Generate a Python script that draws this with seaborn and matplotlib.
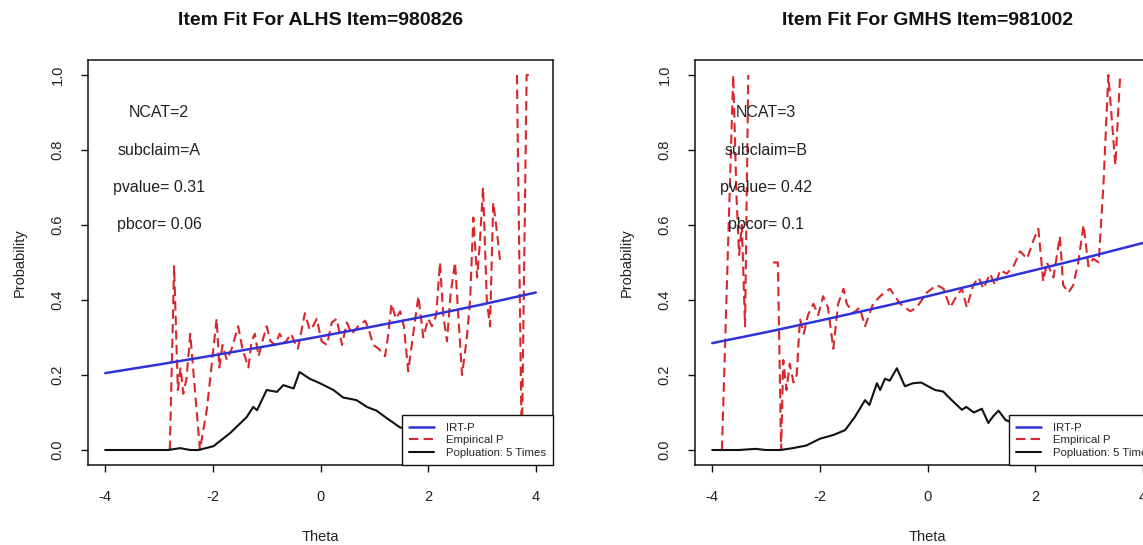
import numpy as np
import pandas as pd
import matplotlib
matplotlib.use("Agg")
import matplotlib.pyplot as plt
from matplotlib.lines import Line2D
import seaborn as sns

# ---------------- data ----------------
titles = ["Item Fit For ALHS Item=980826", "Item Fit For GMHS Item=981002"]
annotations = [["NCAT=2", "subclaim=A", "pvalue= 0.31", "pbcor= 0.06"],
               ["NCAT=3", "subclaim=B", "pvalue= 0.42", "pbcor= 0.1"]]
legend_labels = ["IRT-P", "Empirical P", "Popluation: 5 Times"]
x_ticks = [-4, -2, 0, 2, 4]
y_ticks = [0.0, 0.2, 0.4, 0.6, 0.8, 1.0]

# IRT-P model curves
irt_theta = [-4, -3, -2, -1, 0, 1, 2, 3, 4]
irt_left = [0.205, 0.228, 0.252, 0.277, 0.303, 0.330, 0.358, 0.388, 0.420]
irt_right = [0.285, 0.314, 0.345, 0.377, 0.410, 0.445, 0.480, 0.515, 0.552]

# Empirical P (NaN = no data)
emp_theta_left = [-2.80, -2.72, -2.65, -2.60, -2.55, -2.49, -2.42, -2.38, -2.24, -2.11,
                  -1.93, -1.88, -1.82, -1.74, -1.65, -1.53, -1.45, -1.34, -1.28, -1.22,
                  -1.15, -1.08, -1.00, -0.93, -0.84, -0.76, -0.66, -0.55, -0.42, -0.29,
                  -0.20, -0.14, -0.07, 0.02, 0.12, 0.21, 0.30, 0.40, 0.49, 0.58,
                  0.70, 0.83, 0.90, 0.98, 1.08, 1.20, 1.26, 1.32, 1.40, 1.48,
                  1.55, 1.63, 1.76, 1.82, 1.91, 2.00, 2.07, 2.15, 2.22, 2.28,
                  2.35, 2.42, 2.50, 2.56, 2.63, 2.72, 2.78, 2.84, 2.91, 2.96,
                  3.02, 3.09, 3.15, 3.21, 3.28, 3.34, 3.45, 3.65, 3.74, 3.83, 3.87]
emp_p_left = [0.00, 0.49, 0.16, 0.22, 0.15, 0.19, 0.31, 0.24, 0.00, 0.11,
              0.35, 0.22, 0.28, 0.24, 0.27, 0.33, 0.27, 0.22, 0.29, 0.31,
              0.25, 0.29, 0.33, 0.29, 0.28, 0.31, 0.285, 0.31, 0.27, 0.365,
              0.32, 0.33, 0.35, 0.29, 0.28, 0.34, 0.35, 0.28, 0.34, 0.31,
              0.33, 0.345, 0.32, 0.28, 0.27, 0.25, 0.31, 0.39, 0.35, 0.37,
              0.33, 0.21, 0.35, 0.41, 0.30, 0.35, 0.33, 0.36, 0.50, 0.36,
              0.29, 0.42, 0.50, 0.36, 0.20, 0.30, 0.40, 0.62, 0.46, 0.55,
              0.70, 0.40, 0.33, 0.66, 0.58, 0.50, np.nan, 1.00, 0.00, 1.00, 1.00]

emp_theta_right = [-3.82, -3.61, -3.55, -3.50, -3.45, -3.39, -3.33, -3.10, -2.87, -2.78,
                   -2.72, -2.68, -2.62, -2.56, -2.49, -2.43, -2.37, -2.30, -2.22, -2.12,
                   -2.03, -1.94, -1.85, -1.75, -1.66, -1.56, -1.50, -1.38, -1.26, -1.16,
                   -1.01, -0.88, -0.70, -0.51, -0.32, -0.20, -0.01, 0.17, 0.30, 0.42,
                   0.54, 0.64, 0.73, 0.85, 0.95, 1.04, 1.16, 1.26, 1.35, 1.47,
                   1.60, 1.72, 1.85, 1.97, 2.06, 2.15, 2.22, 2.34, 2.46, 2.52,
                   2.62, 2.71, 2.80, 2.90, 2.99, 3.08, 3.18, 3.27, 3.36, 3.42,
                   3.49, 3.58]
emp_p_right = [0.00, 1.00, 0.68, 0.52, 0.60, 0.33, 1.00, np.nan, 0.50, 0.50,
               0.00, 0.24, 0.16, 0.23, 0.18, 0.20, 0.35, 0.31, 0.36, 0.39,
               0.36, 0.41, 0.38, 0.27, 0.39, 0.43, 0.39, 0.365, 0.38, 0.33,
               0.39, 0.41, 0.43, 0.39, 0.37, 0.38, 0.42, 0.44, 0.43, 0.38,
               0.41, 0.43, 0.38, 0.44, 0.46, 0.43, 0.47, 0.44, 0.48, 0.47,
               0.49, 0.53, 0.51, 0.56, 0.59, 0.45, 0.50, 0.46, 0.57, 0.44,
               0.42, 0.44, 0.50, 0.60, 0.49, 0.51, 0.50, 0.71, 1.00, 0.89,
               0.76, 1.00]

# Population curve (5 times)
pop_theta_left = [-4.0, -3.5, -3.0, -2.83, -2.61, -2.42, -2.27, -1.99, -1.68, -1.37,
                  -1.25, -1.18, -1.00, -0.81, -0.69, -0.50, -0.39, -0.20, -0.01, 0.24,
                  0.42, 0.67, 0.86, 1.04, 1.23, 1.48, 1.80, 2.20, 2.60, 3.00, 3.50, 4.00]
pop_p_left = [0.0, 0.0, 0.0, 0.0, 0.005, 0.0, 0.0, 0.01, 0.045, 0.088,
              0.115, 0.106, 0.16, 0.155, 0.173, 0.164, 0.208, 0.19, 0.178, 0.16,
              0.14, 0.133, 0.115, 0.105, 0.085, 0.06, 0.05, 0.035, 0.02, 0.01, 0.005, 0.0]

pop_theta_right = [-4.0, -3.5, -3.2, -3.0, -2.73, -2.5, -2.25, -2.0, -1.75, -1.53,
                   -1.35, -1.16, -1.08, -0.94, -0.88, -0.79, -0.70, -0.57, -0.42, -0.27,
                   -0.12, 0.14, 0.29, 0.45, 0.64, 0.72, 0.86, 1.01, 1.13, 1.22,
                   1.32, 1.45, 1.80, 2.20, 2.60, 3.00, 3.50, 4.00]
pop_p_right = [0.0, 0.0, 0.003, 0.0, 0.0, 0.005, 0.012, 0.03, 0.04, 0.053,
               0.088, 0.133, 0.12, 0.178, 0.16, 0.19, 0.185, 0.218, 0.17, 0.178,
               0.18, 0.16, 0.156, 0.133, 0.107, 0.115, 0.10, 0.11, 0.072, 0.09,
               0.105, 0.08, 0.06, 0.04, 0.025, 0.012, 0.005, 0.0]

# ---------------- style ----------------
sns.set_theme(style="ticks")
plt.rcParams["font.family"] = ["Liberation Sans", "DejaVu Sans"]

BLUE = "#2f33d6"
RED = "#d9262b"
BLACK = "#111111"

W, H = 1143, 545
fig = plt.figure(figsize=(W / 100, H / 100), dpi=100)
axes = [fig.add_axes([88 / W, 80 / H, 465 / W, 405 / H]),
        fig.add_axes([695 / W, 80 / H, 465 / W, 405 / H])]


def seg_frame(theta, p):
    df = pd.DataFrame({"theta": theta, "p": p})
    df["seg"] = df["p"].isna().cumsum()
    return df.dropna()


panels = [
    (irt_left, emp_theta_left, emp_p_left, pop_theta_left, pop_p_left),
    (irt_right, emp_theta_right, emp_p_right, pop_theta_right, pop_p_right),
]

for i, ax in enumerate(axes):
    irt, et, ep, pt, pp = panels[i]
    emp_df = seg_frame(et, ep)
    n0 = len(ax.lines)
    sns.lineplot(data=emp_df, x="theta", y="p", units="seg", estimator=None,
                 sort=False, color=RED, lw=1.5, ax=ax, legend=False)
    for ln in ax.lines[n0:]:
        ln.set_linestyle((0, (4.5, 2.5)))
    sns.lineplot(x=irt_theta, y=irt, color=BLUE, lw=1.8, ax=ax, legend=False)
    sns.lineplot(x=pt, y=pp, color=BLACK, lw=1.5, ax=ax, legend=False)

    ax.set_xlim(-4.32, 4.32)
    ax.set_ylim(-0.04, 1.04)
    ax.set_xticks(x_ticks)
    ax.set_xticklabels([str(v) for v in x_ticks])
    ax.set_yticks(y_ticks)
    ax.set_yticklabels([f"{v:.1f}" for v in y_ticks])
    for lab in ax.get_yticklabels():
        lab.set_rotation(90)
        lab.set_va("center")
    ax.tick_params(axis="both", direction="out", length=5, width=1.0,
                   color=BLACK, labelsize=10.5, labelcolor="#222222")
    ax.tick_params(axis="x", pad=13)
    ax.tick_params(axis="y", pad=12)
    for sp in ax.spines.values():
        sp.set_visible(True)
        sp.set_color(BLACK)
        sp.set_linewidth(1.1)

    ax.set_xlabel("Theta", fontsize=10.5, labelpad=19, color="#222222")
    ax.set_ylabel("Probability", fontsize=10.5, labelpad=17, color="#222222")
    ax.set_title(titles[i], fontsize=14, fontweight="bold", pad=25, color="#111111")

    for k, txt in enumerate(annotations[i]):
        ax.text(-3.0, 0.9 - 0.1 * k, txt, ha="center", va="center",
                fontsize=11.5, color="#222222")

    handles = [Line2D([], [], color=BLUE, lw=1.8),
               Line2D([], [], color=RED, lw=1.5, linestyle=(0, (4.5, 2.5))),
               Line2D([], [], color=BLACK, lw=1.5)]
    leg = ax.legend(handles, legend_labels, loc="lower right", borderaxespad=0,
                    fontsize=8.2, frameon=True, fancybox=False, framealpha=1,
                    edgecolor=BLACK, handlelength=2.2, handletextpad=1.0,
                    labelspacing=0.22, borderpad=0.65)
    leg.get_frame().set_linewidth(1.0)

fig.savefig("out.png", dpi=100, facecolor="white")
